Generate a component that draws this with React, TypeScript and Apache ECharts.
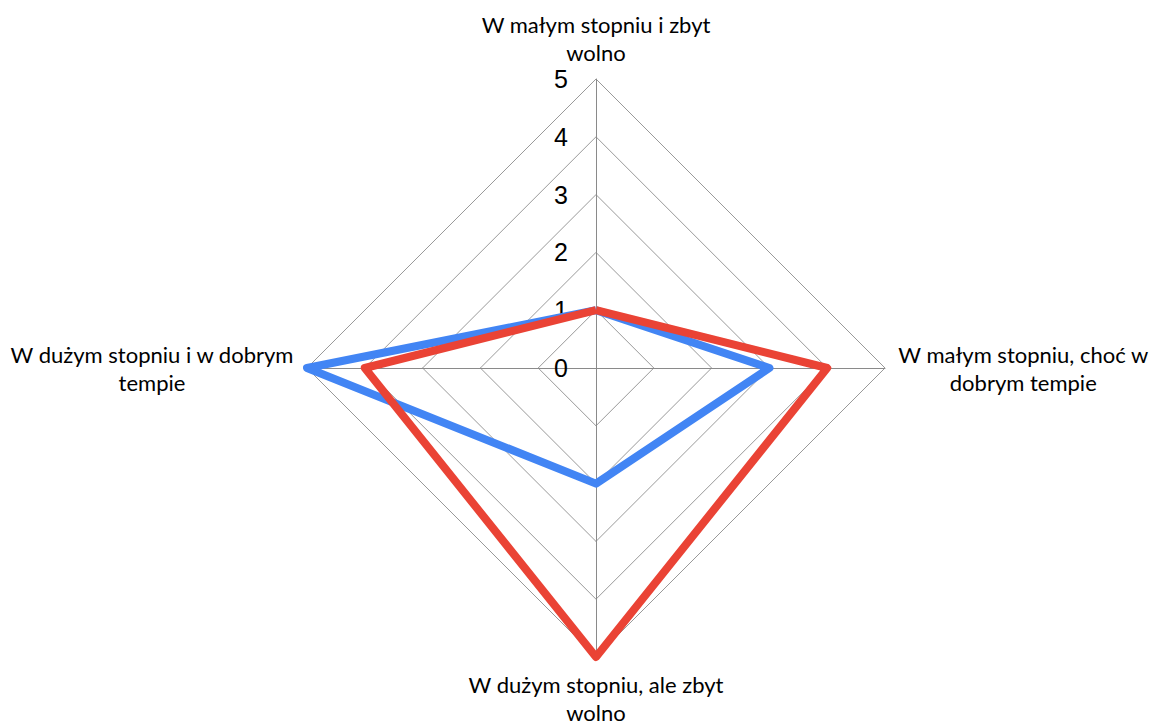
import React, { useEffect, useRef } from "react";
import * as echarts from "echarts";

// Indicator order (ECharts goes counter-clockwise from the top): top, left, bottom, right
const categories = [
  "W małym stopniu i zbyt\nwolno",
  "W dużym stopniu i w dobrym\ntempie",
  "W dużym stopniu, ale zbyt\nwolno",
  "W małym stopniu, choć w\ndobrym tempie",
];
const blueValues = [1, 5, 2, 3];
const redValues = [1, 4, 5, 4];
const maxValue = 5;

export default function App() {
  const ref = useRef<HTMLDivElement>(null);
  useEffect(() => {
    if (!ref.current) return;
    const chart = echarts.init(ref.current, undefined, { renderer: "svg" });
    chart.setOption({
      animation: false,
      backgroundColor: "#ffffff",
      radar: {
        center: [588, 360],
        radius: 289,
        startAngle: 90,
        shape: "polygon",
        splitNumber: 5,
        nameGap: 13,
        indicator: categories.map((c, i) => ({
          name: c,
          min: 0,
          max: maxValue,
          axisLabel:
            i === 0
              ? {
                  show: true,
                  color: "#000",
                  fontSize: 25,
                  fontFamily: "Liberation Sans",
                  margin: 28,
                  showMinLabel: true,
                  showMaxLabel: true,
                }
              : { show: false },
        })),
        axisName: {
          color: "#000",
          fontSize: 22,
          fontFamily: "Lato",
          formatter: (v: string) =>
            v
              .split("\n")
              .map((l) => `{a|${l}}`)
              .join("\n"),
          rich: {
            a: {
              align: "center",
              fontSize: 22,
              fontFamily: "Lato",
              color: "#000",
              lineHeight: 28,
            },
          },
        },
        axisLine: { lineStyle: { color: "#8a8a8a", width: 1 } },
        splitLine: { lineStyle: { color: "#999999", width: 1 } },
        splitArea: { show: false },
        axisTick: { show: false },
        axisLabel: { show: false },
      },
      series: [
        {
          type: "radar",
          symbol: "none",
          data: [
            {
              value: blueValues,
              lineStyle: { color: "#4285F4", width: 8 },
            },
            {
              value: redValues,
              lineStyle: { color: "#EA4335", width: 8 },
            },
          ],
        },
      ],
    });
    return () => chart.dispose();
  }, []);
  return <div ref={ref} style={{ width: "100%", height: 718 }} />;
}
